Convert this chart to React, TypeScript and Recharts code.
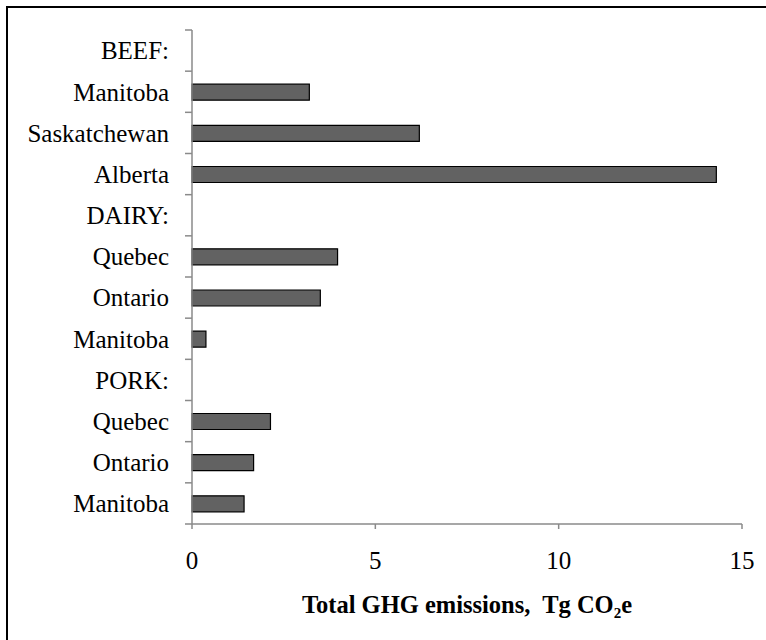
import React from "react";
import { BarChart, Bar, XAxis, YAxis } from "recharts";

const categories = [
  "BEEF:",
  "Manitoba",
  "Saskatchewan",
  "Alberta",
  "DAIRY:",
  "Quebec",
  "Ontario",
  "Manitoba",
  "PORK:",
  "Quebec",
  "Ontario",
  "Manitoba",
];
const emissions: (number | null)[] = [null, 3.2, 6.2, 14.3, null, 3.97, 3.5, 0.38, null, 2.14, 1.68, 1.42];
const xTicks = [0, 5, 10, 15];

const data = categories.map((c, i) => ({ id: i, label: c, value: emissions[i] }));

const FONT = '"Liberation Serif", "Times New Roman", serif';
const AXIS_GRAY = "#8a8a8a";
const Y_TICK = 7;
const Y_MARGIN = 16;
const LABEL_SIZE = 25;

const TitleLabel = (props: any) => {
  const vb = props.viewBox || {};
  const cx = (vb.x || 0) + (vb.width || 0) / 2;
  const y = (vb.y || 0) + 89;
  return (
    <text
      x={cx}
      y={y}
      textAnchor="middle"
      fontFamily={FONT}
      fontSize={24.5}
      fontWeight="bold"
      fill="#000"
      style={{ whiteSpace: "pre" }}
    >
      <tspan>{"Total GHG emissions,  Tg CO"}</tspan>
      <tspan fontSize={15} dy={5}>2</tspan>
      <tspan dy={-5}>e</tspan>
    </text>
  );
};

const CategoryTick = (props: any) => {
  const { x, y, payload, index } = props;
  const off = payload && payload.offset ? payload.offset : 0;
  const axisX = x + Y_MARGIN + Y_TICK;
  const last = index === categories.length - 1;
  return (
    <g>
      <text x={x} y={y} dy="0.355em" textAnchor="end" fontFamily={FONT} fontSize={LABEL_SIZE} fill="#000">
        {categories[payload.value]}
      </text>
      <line x1={axisX - Y_TICK} x2={axisX} y1={y - off} y2={y - off} stroke={AXIS_GRAY} strokeWidth={1.5} />
      {last ? (
        <line x1={axisX - Y_TICK} x2={axisX} y1={y + off} y2={y + off} stroke={AXIS_GRAY} strokeWidth={1.5} />
      ) : null}
    </g>
  );
};

export default function App() {
  return (
    <div style={{ position: "absolute", left: 0, top: 0, width: 766, height: 640, background: "#fff", overflow: "hidden" }}>
      <div style={{ position: "absolute", left: 6, top: 6, width: 760, height: 2, background: "#000" }} />
      <div style={{ position: "absolute", left: 6, top: 6, width: 2, height: 634, background: "#000" }} />
      <div style={{ position: "absolute", left: 0, top: 0 }}>
        <BarChart
          width={766}
          height={640}
          data={data}
          layout="vertical"
          margin={{ top: 30, right: 24, left: 0, bottom: 56 }}
        >
          <XAxis
            type="number"
            domain={[0, 15]}
            ticks={xTicks}
            height={60}
            tickSize={5}
            tickMargin={22}
            axisLine={{ stroke: AXIS_GRAY, strokeWidth: 1.5 }}
            tickLine={{ stroke: AXIS_GRAY, strokeWidth: 1.5 }}
            tick={{ fontFamily: FONT, fontSize: LABEL_SIZE, fill: "#000" }}
            label={<TitleLabel />}
          />
          <YAxis
            type="category"
            dataKey="id"
            width={192}
            tickSize={Y_TICK}
            tickMargin={Y_MARGIN}
            axisLine={{ stroke: AXIS_GRAY, strokeWidth: 1.5 }}
            tickLine={false}
            interval={0}
            tick={<CategoryTick />}
          />
          <Bar
            dataKey="value"
            barSize={16}
            fill="#626262"
            stroke="#000"
            strokeWidth={1.2}
            isAnimationActive={false}
          />
        </BarChart>
      </div>
    </div>
  );
}
